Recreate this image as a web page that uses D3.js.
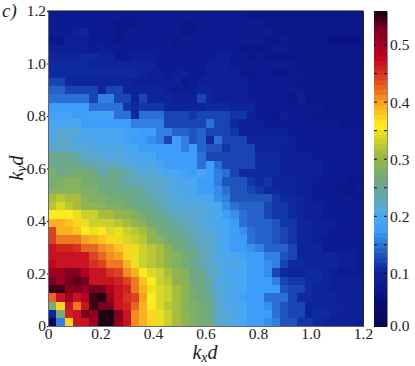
<!DOCTYPE html>
<meta charset="utf-8">
<head>
  <script src="https://d3js.org/d3.v7.min.js"></script>
  <style>
    body { margin: 0; background: #fff; }
    svg text { font-family: "Liberation Serif", serif !important; fill: #222; }
  </style>
</head>
<body>
<div id="chart"></div>
<script>
// tick labels
var xTicks = [0, 0.2, 0.4, 0.6, 0.8, 1.0, 1.2];
var yTicks = [0, 0.2, 0.4, 0.6, 0.8, 1.0, 1.2];
var cbTicks = [0.0, 0.1, 0.2, 0.3, 0.4, 0.5];
var cbMinor = [0.05, 0.1, 0.15, 0.2, 0.25, 0.3, 0.35, 0.4, 0.45, 0.5];

// colormap
var cmapVals = [0.008, 0.05, 0.08, 0.11, 0.135, 0.155, 0.175, 0.195, 0.22, 0.26, 0.29, 0.31, 0.33, 0.345, 0.36, 0.40, 0.435, 0.48, 0.53, 0.56];
var cmapCols = ["#06064e", "#0a0c78", "#0c1a90", "#0f2ca0", "#2058c0", "#2e78dc", "#3c9cf8", "#4aa8f0", "#5ea8c8", "#6ca884", "#88b458", "#a0b840", "#c8d030", "#e4dc20", "#fff020", "#f8a020", "#e05020", "#c00020", "#780020", "#100010"];

// one row per ky bin, bottom row first, kx bins left to right
var rows = [
[.02,.16,.37,.47,.47,.50,.56,.56,.51,.47,.41,.39,.37,.35,.33,.31,.30,.28,.27,.26,.22,.21,.20,.19,.18,.18,.17,.155,.13,.13,.115,.115,.105,.10,.09,.09,.09,.085],
[.10,.27,.46,.47,.53,.51,.56,.56,.52,.47,.41,.39,.37,.35,.33,.31,.30,.28,.27,.255,.22,.21,.20,.19,.18,.18,.175,.15,.13,.125,.12,.10,.105,.105,.10,.09,.09,.09],
[.27,.37,.47,.42,.47,.55,.53,.53,.47,.46,.43,.39,.36,.34,.32,.31,.29,.28,.27,.25,.22,.20,.20,.19,.18,.18,.17,.15,.13,.12,.12,.10,.10,.10,.10,.095,.09,.09],
[.43,.47,.50,.47,.49,.55,.56,.50,.47,.45,.44,.40,.36,.34,.33,.31,.30,.27,.26,.25,.22,.20,.19,.185,.18,.175,.15,.15,.15,.12,.11,.105,.10,.10,.10,.09,.09,.09],
[.55,.55,.52,.52,.51,.53,.53,.49,.47,.46,.42,.39,.35,.34,.33,.31,.30,.27,.26,.24,.21,.20,.20,.19,.18,.18,.18,.175,.13,.12,.12,.11,.10,.10,.09,.09,.09,.09],
[.53,.50,.53,.54,.53,.47,.47,.47,.46,.44,.42,.385,.36,.33,.32,.30,.29,.26,.26,.24,.20,.20,.195,.19,.18,.18,.18,.155,.12,.115,.115,.11,.105,.10,.09,.09,.09,.09],
[.50,.50,.52,.52,.49,.47,.47,.45,.44,.41,.39,.36,.34,.33,.31,.30,.29,.26,.25,.22,.22,.195,.19,.19,.18,.18,.17,.12,.105,.095,.095,.11,.11,.10,.09,.085,.08,.085],
[.48,.47,.47,.47,.47,.45,.44,.42,.42,.39,.35,.33,.32,.31,.30,.28,.27,.25,.24,.22,.21,.20,.20,.19,.18,.18,.165,.16,.12,.11,.105,.10,.10,.10,.095,.09,.09,.085],
[.47,.47,.47,.47,.47,.44,.43,.41,.40,.37,.35,.33,.32,.31,.30,.29,.27,.26,.24,.22,.205,.20,.19,.185,.18,.175,.155,.155,.135,.12,.10,.10,.10,.095,.095,.09,.09,.085],
[.47,.46,.46,.45,.43,.43,.41,.40,.38,.37,.35,.33,.32,.31,.29,.27,.25,.25,.23,.215,.205,.195,.18,.18,.17,.155,.14,.14,.14,.12,.10,.095,.095,.08,.08,.08,.08,.08],
[.44,.42,.42,.42,.40,.39,.38,.37,.35,.34,.33,.32,.30,.29,.27,.26,.25,.24,.22,.215,.205,.195,.18,.18,.15,.14,.14,.135,.12,.115,.10,.10,.09,.085,.085,.08,.08,.08],
[.44,.39,.39,.38,.36,.35,.365,.34,.35,.33,.32,.31,.29,.27,.26,.25,.24,.23,.22,.21,.20,.19,.18,.165,.15,.14,.14,.13,.12,.115,.10,.10,.09,.09,.08,.08,.08,.08],
[.39,.39,.385,.37,.35,.33,.33,.33,.32,.31,.30,.29,.27,.26,.25,.24,.23,.22,.21,.205,.19,.19,.18,.15,.14,.14,.14,.13,.115,.115,.10,.10,.09,.09,.09,.08,.08,.08],
[.36,.36,.36,.35,.33,.33,.31,.31,.30,.30,.28,.27,.26,.25,.24,.23,.22,.22,.21,.205,.19,.18,.165,.15,.14,.14,.125,.115,.115,.11,.10,.09,.09,.085,.08,.08,.08,.08],
[.325,.34,.32,.31,.30,.30,.29,.28,.28,.27,.26,.25,.25,.24,.22,.21,.21,.21,.21,.20,.19,.165,.15,.14,.14,.14,.125,.115,.115,.11,.10,.09,.09,.085,.08,.08,.08,.08],
[.31,.32,.31,.31,.29,.28,.28,.27,.27,.26,.25,.25,.24,.23,.22,.21,.20,.20,.195,.19,.165,.16,.135,.13,.13,.13,.13,.115,.11,.11,.10,.09,.085,.085,.08,.08,.08,.075],
[.28,.29,.29,.29,.28,.28,.26,.26,.25,.25,.25,.24,.23,.22,.21,.20,.20,.19,.18,.18,.165,.15,.135,.13,.125,.115,.11,.105,.10,.10,.09,.09,.085,.08,.08,.075,.075,.08],
[.275,.28,.29,.29,.275,.27,.265,.26,.25,.24,.23,.23,.22,.22,.21,.20,.19,.19,.18,.175,.155,.135,.13,.13,.115,.11,.115,.10,.10,.095,.09,.09,.08,.08,.08,.08,.07,.075],
[.28,.26,.27,.27,.27,.26,.24,.25,.25,.24,.22,.21,.21,.20,.195,.19,.185,.18,.19,.18,.155,.15,.125,.11,.11,.105,.105,.105,.09,.09,.09,.09,.09,.085,.085,.085,.085,.08],
[.25,.25,.26,.25,.24,.24,.23,.23,.22,.21,.205,.20,.20,.19,.18,.18,.18,.18,.15,.18,.15,.125,.125,.125,.125,.105,.105,.105,.09,.09,.09,.09,.09,.08,.08,.08,.08,.08],
[.25,.25,.25,.245,.22,.22,.21,.205,.21,.20,.20,.195,.19,.18,.18,.18,.175,.18,.15,.125,.125,.12,.12,.12,.12,.105,.105,.105,.09,.09,.09,.09,.08,.08,.08,.08,.08,.08],
[.22,.22,.22,.21,.21,.205,.205,.20,.20,.195,.19,.18,.18,.175,.18,.18,.16,.18,.14,.135,.135,.115,.125,.125,.125,.10,.10,.10,.09,.09,.08,.08,.08,.08,.08,.08,.08,.08],
[.20,.215,.215,.20,.20,.20,.19,.19,.19,.185,.18,.18,.17,.155,.125,.18,.155,.13,.14,.105,.15,.125,.125,.125,.10,.10,.10,.10,.10,.09,.085,.08,.08,.08,.08,.08,.08,.08],
[.20,.21,.21,.21,.19,.19,.19,.19,.19,.185,.185,.18,.18,.155,.155,.145,.145,.13,.14,.125,.125,.125,.115,.09,.09,.09,.09,.09,.09,.085,.085,.08,.08,.08,.08,.08,.08,.08],
[.195,.195,.195,.195,.18,.18,.18,.18,.18,.18,.155,.155,.155,.155,.125,.125,.125,.12,.125,.15,.125,.125,.11,.09,.09,.09,.085,.085,.08,.08,.08,.08,.08,.08,.08,.075,.075,.075],
[.185,.185,.185,.175,.18,.185,.185,.185,.15,.15,.11,.15,.15,.15,.125,.125,.125,.115,.125,.125,.125,.125,.115,.115,.09,.085,.085,.075,.09,.08,.08,.08,.075,.075,.075,.075,.075,.075],
[.18,.18,.18,.18,.18,.15,.15,.15,.15,.115,.11,.115,.115,.115,.10,.10,.10,.10,.095,.105,.105,.105,.095,.095,.095,.085,.08,.08,.08,.08,.08,.08,.08,.075,.075,.075,.075,.075],
[.15,.15,.15,.15,.15,.12,.155,.155,.125,.125,.10,.12,.095,.095,.095,.09,.09,.09,.125,.095,.09,.09,.09,.09,.085,.08,.08,.08,.08,.07,.09,.075,.075,.075,.075,.075,.075,.075],
[.14,.14,.125,.125,.125,.125,.10,.125,.125,.10,.10,.095,.095,.095,.09,.085,.085,.085,.10,.095,.09,.09,.09,.09,.08,.08,.08,.08,.08,.08,.08,.075,.075,.075,.075,.075,.075,.075],
[.125,.125,.105,.10,.10,.10,.10,.10,.10,.10,.09,.09,.09,.09,.09,.09,.075,.085,.09,.09,.09,.09,.09,.09,.08,.08,.08,.08,.08,.08,.075,.075,.075,.075,.075,.075,.075,.075],
[.105,.105,.105,.105,.105,.105,.105,.105,.105,.105,.105,.10,.09,.09,.08,.09,.09,.085,.085,.09,.09,.09,.09,.08,.07,.08,.08,.07,.075,.085,.085,.075,.075,.075,.075,.075,.075,.075],
[.105,.105,.105,.105,.105,.10,.10,.10,.10,.10,.10,.095,.095,.085,.085,.085,.085,.085,.085,.09,.09,.09,.08,.08,.08,.08,.08,.08,.08,.085,.075,.075,.075,.075,.075,.075,.075,.075],
[.095,.095,.095,.095,.105,.105,.095,.095,.08,.08,.09,.09,.09,.08,.08,.08,.08,.08,.085,.085,.09,.09,.08,.08,.07,.08,.07,.075,.075,.075,.075,.075,.075,.075,.075,.075,.075,.07],
[.09,.09,.09,.09,.09,.08,.09,.085,.085,.085,.085,.085,.085,.08,.08,.08,.08,.08,.08,.08,.08,.08,.08,.075,.075,.075,.075,.085,.085,.075,.075,.075,.075,.075,.075,.075,.07,.075],
[.075,.075,.09,.09,.09,.085,.085,.085,.07,.08,.08,.08,.08,.08,.08,.07,.08,.08,.085,.085,.085,.085,.085,.085,.085,.085,.075,.075,.08,.075,.075,.075,.075,.075,.065,.065,.065,.065],
[.085,.085,.085,.095,.095,.085,.085,.085,.07,.08,.08,.08,.08,.08,.08,.08,.075,.075,.08,.085,.085,.085,.085,.085,.085,.085,.085,.075,.075,.075,.075,.075,.075,.075,.075,.075,.075,.075],
[.08,.08,.08,.08,.08,.08,.08,.08,.075,.075,.075,.08,.08,.08,.08,.08,.075,.075,.08,.085,.08,.08,.08,.08,.08,.08,.075,.075,.075,.075,.075,.075,.075,.075,.075,.07,.075,.07],
[.085,.085,.085,.085,.085,.08,.08,.085,.08,.075,.08,.08,.08,.08,.08,.08,.08,.08,.085,.085,.085,.08,.08,.08,.075,.075,.075,.075,.075,.07,.075,.07,.075,.075,.075,.075,.07,.07]
];

var kMax = 1.2;
var nBins = rows[0].length;
var vMin = 0.0079, vMax = 0.5595;

var margin = {top: 11, left: 48};
var width = 315, height = 315;

var svg = d3.select("#chart").append("svg")
    .attr("width", 415)
    .attr("height", 366);

var plot = svg.append("g")
    .attr("transform", "translate(" + margin.left + "," + margin.top + ")");

var x = d3.scaleLinear().domain([0, kMax]).range([0, width]);
var y = d3.scaleLinear().domain([0, kMax]).range([height, 0]);

// 64 level colormap like the colorbar steps
var cmap = d3.scaleLinear().domain(cmapVals).range(cmapCols);
var levels = d3.range(64).map(function(i) { return cmap(vMin + (i + 0.5) / 64 * (vMax - vMin)); });
var color = d3.scaleQuantize().domain([vMin, vMax]).range(levels);

var cells = [];
rows.forEach(function(row, j) {
  row.forEach(function(v, i) { cells.push({i: i, j: j, v: v}); });
});
var dk = kMax / nBins;

plot.selectAll("rect.cell")
  .data(cells)
  .enter().append("rect")
    .attr("class", "cell")
    .attr("x", function(d) { return x(d.i * dk); })
    .attr("y", function(d) { return y((d.j + 1) * dk); })
    .attr("width", x(dk) + 0.5)
    .attr("height", y(0) - y(dk) + 0.5)
    .attr("fill", function(d) { return color(d.v); })
    .attr("shape-rendering", "crispEdges");

// axes
var fmt = function(d) { return d === 0 ? "0" : d3.format(".1f")(d); };
var xAxis = plot.append("g")
    .attr("transform", "translate(0," + height + ")")
    .call(d3.axisBottom(x).tickValues(xTicks).tickFormat(fmt).tickSize(0).tickPadding(2));
var yAxis = plot.append("g")
    .call(d3.axisLeft(y).tickValues(yTicks).tickFormat(fmt).tickSize(1).tickPadding(1));
[xAxis, yAxis].forEach(function(a) {
  a.selectAll("text").style("font-size", "15.5px");
  a.select(".domain").attr("stroke", "#667").attr("stroke-width", 1);
});
plot.append("line").attr("x1", 0).attr("x2", width).attr("y1", 0).attr("y2", 0).attr("stroke", "#112");
plot.append("line").attr("x1", width).attr("x2", width).attr("y1", 0).attr("y2", height).attr("stroke", "#223");

// colorbar
var cbX = 374, cbW = 13;
var cb = svg.append("g").attr("transform", "translate(" + cbX + "," + margin.top + ")");
var cbScale = d3.scaleLinear().domain([vMin, vMax]).range([height, 0]).clamp(true);

cb.selectAll("rect.step")
  .data(levels)
  .enter().append("rect")
    .attr("class", "step")
    .attr("x", 0)
    .attr("width", cbW)
    .attr("y", function(d, i) { return cbScale(vMin + (i + 1) / 64 * (vMax - vMin)); })
    .attr("height", height / 64 + 0.5)
    .attr("fill", function(d) { return d; })
    .attr("shape-rendering", "crispEdges");

cb.selectAll("path.minor")
  .data(cbMinor)
  .enter().append("path")
    .attr("class", "minor")
    .attr("d", function(d) {
      var yy = cbScale(d);
      return "M0," + yy + "h3M" + (cbW - 3) + "," + yy + "h3";
    })
    .attr("stroke", "#111")
    .attr("stroke-width", 1);

var cbAxis = cb.append("g")
    .attr("transform", "translate(" + cbW + ",0)")
    .call(d3.axisRight(cbScale).tickValues(cbTicks).tickFormat(d3.format(".1f")).tickSize(0).tickPadding(3));
cbAxis.selectAll("text").style("font-size", "15.5px");
cbAxis.select(".domain").attr("stroke", "#889");

// labels
svg.append("text").attr("x", 2).attr("y", 17)
    .style("font-size", "19px").style("font-style", "italic").text("c)");

var xLab = svg.append("text").attr("x", 205).attr("y", 358.5)
    .attr("text-anchor", "middle").style("font-size", "20px").style("font-style", "italic");
xLab.append("tspan").text("k");
xLab.append("tspan").attr("dy", 3).style("font-size", "14px").text("x");
xLab.append("tspan").attr("dy", -3).text("d");

var yLab = svg.append("text").attr("transform", "translate(23,168) rotate(-90)")
    .attr("text-anchor", "middle").style("font-size", "20px").style("font-style", "italic");
yLab.append("tspan").text("k");
yLab.append("tspan").attr("dy", 3).style("font-size", "14px").text("y");
yLab.append("tspan").attr("dy", -3).text("d");
</script>
</body>
